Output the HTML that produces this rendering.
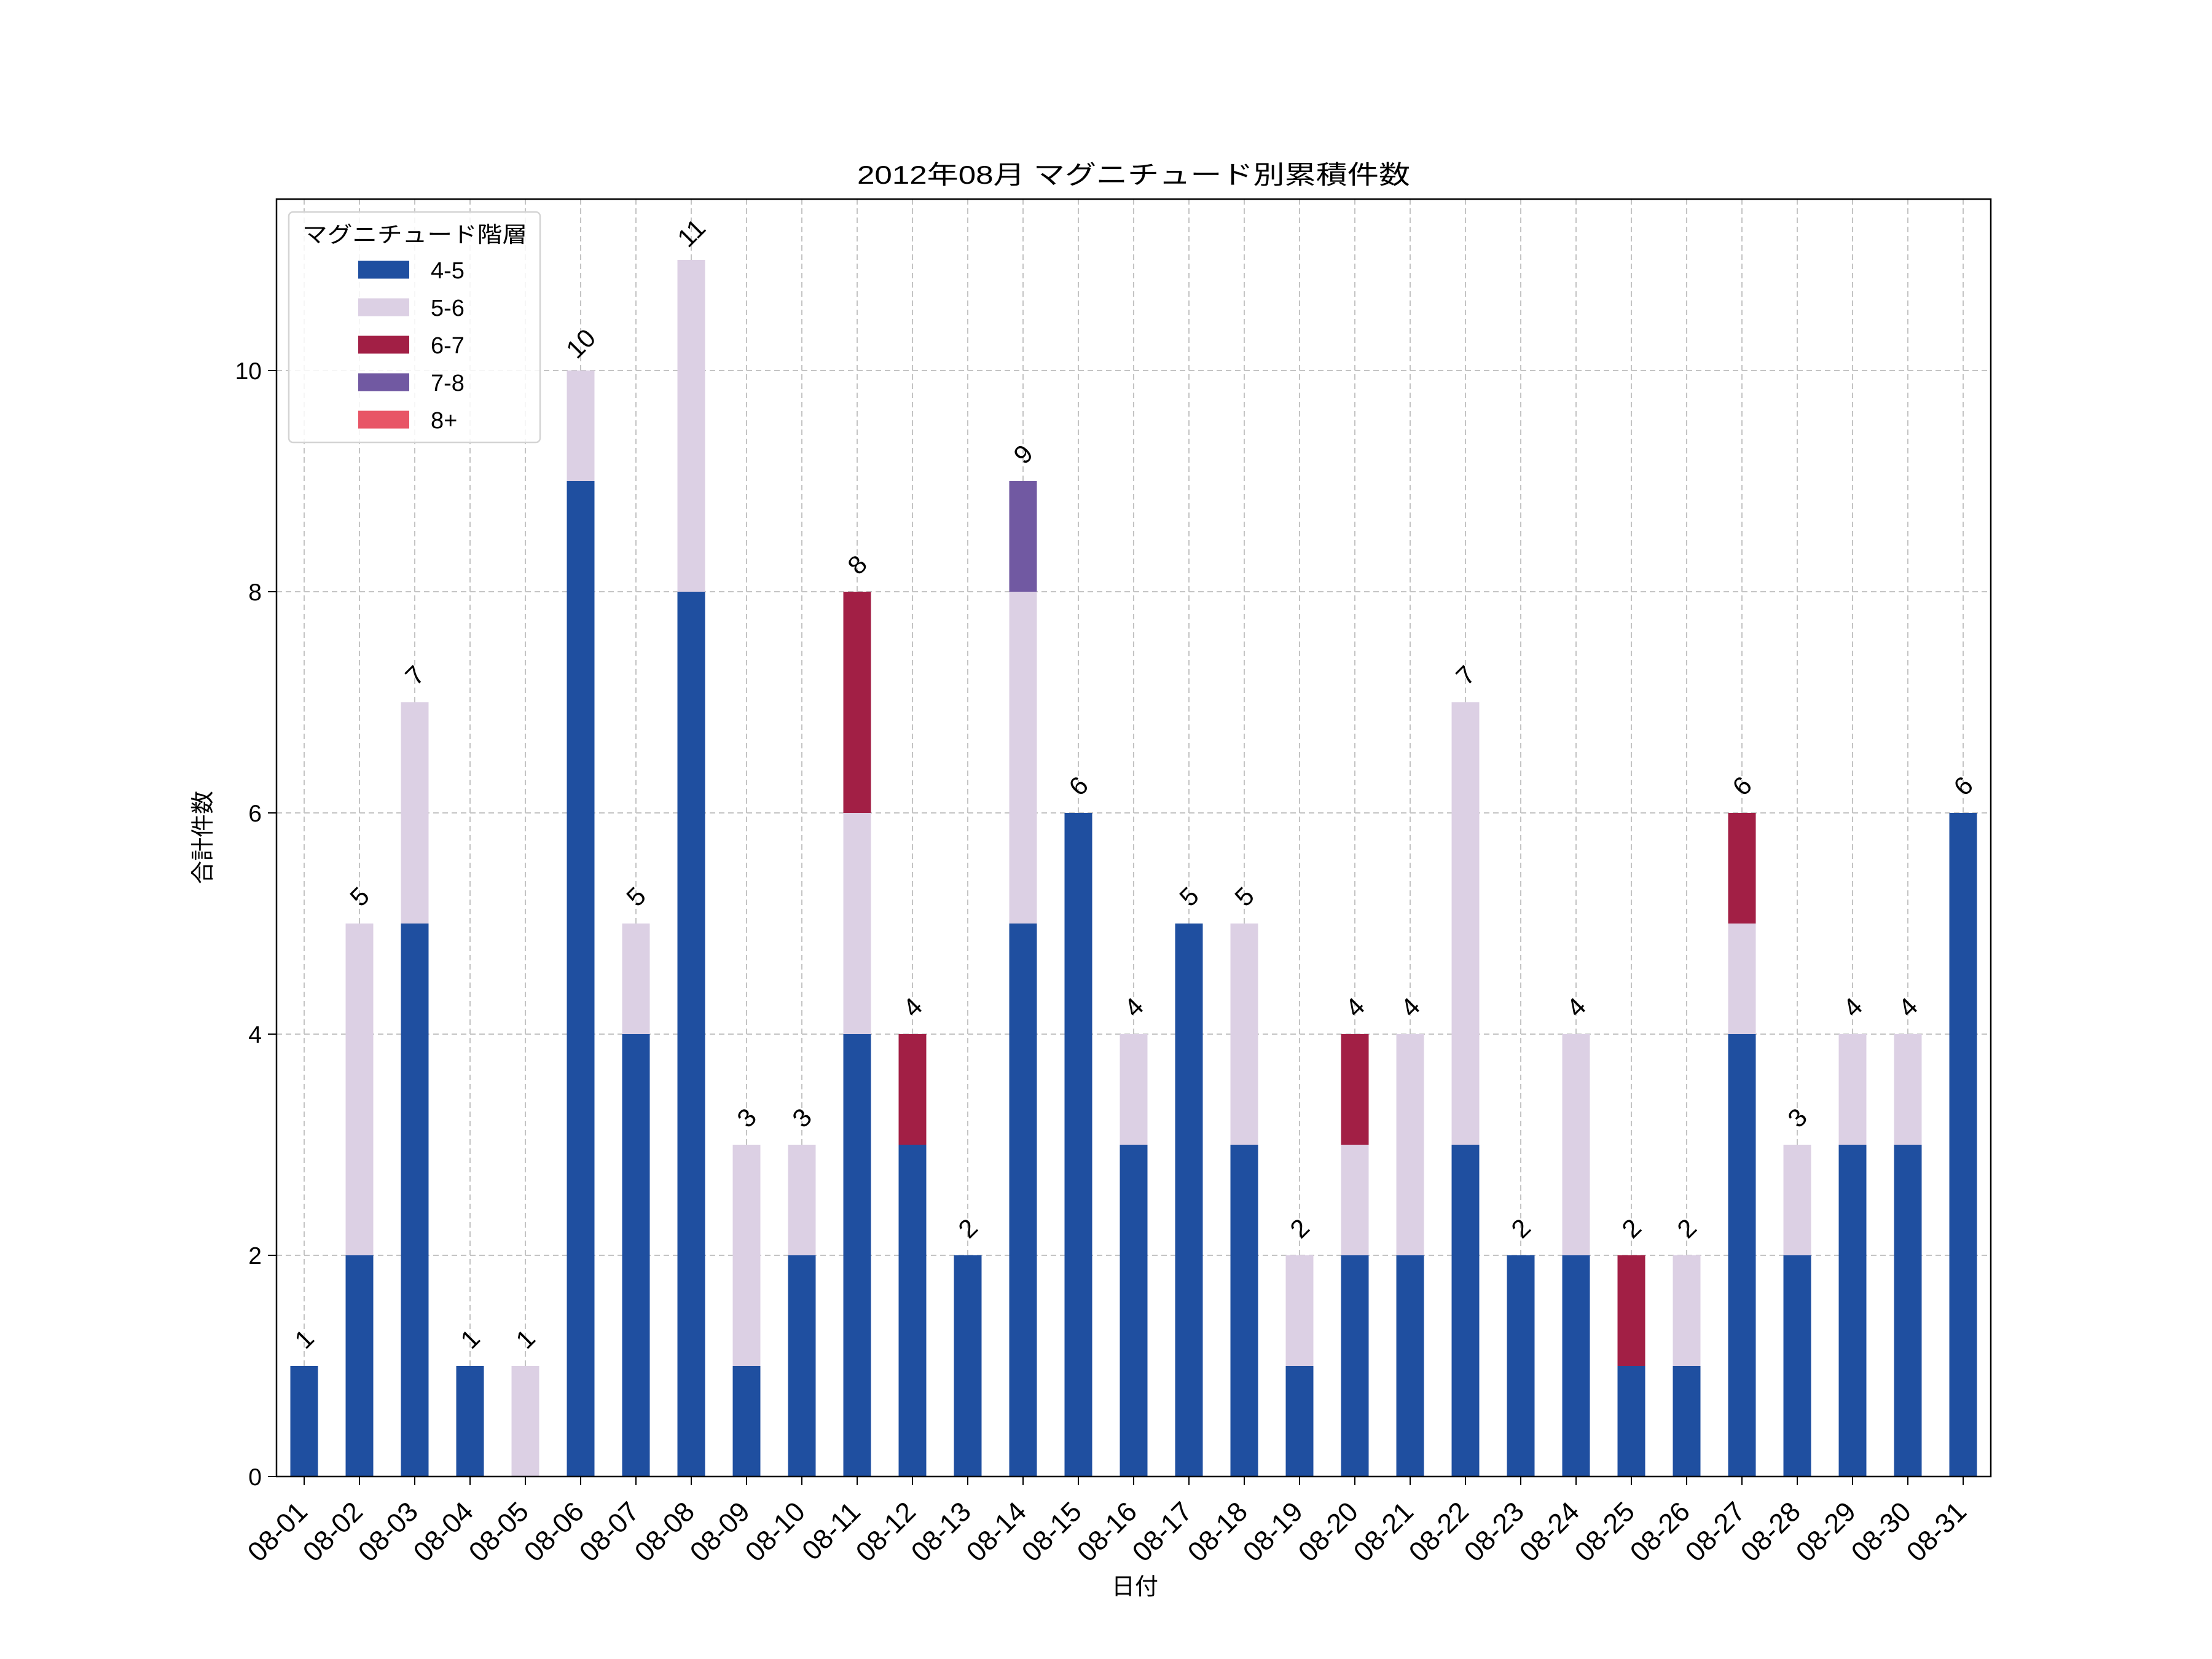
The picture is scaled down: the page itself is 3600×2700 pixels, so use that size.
<!DOCTYPE html>
<html><head><meta charset="utf-8"><style>
html,body{margin:0;padding:0;background:#fff;}
svg{display:block;}
text{font-family:"Liberation Sans","Noto Sans CJK JP",sans-serif;fill:#000;}
</style></head><body>
<svg id="c" xmlns="http://www.w3.org/2000/svg" width="3600" height="2700" viewBox="0 0 3600 2700"></svg>
<script>
const svg=document.getElementById('c');
const data=[[1,0,0,0],[2,3,0,0],[5,2,0,0],[1,0,0,0],[0,1,0,0],[9,1,0,0],[4,1,0,0],[8,3,0,0],[1,2,0,0],[2,1,0,0],[4,2,2,0],[3,0,1,0],[2,0,0,0],[5,3,0,1],[6,0,0,0],[3,1,0,0],[5,0,0,0],[3,2,0,0],[1,1,0,0],[2,1,1,0],[2,2,0,0],[3,4,0,0],[2,0,0,0],[2,2,0,0],[1,0,1,0],[1,1,0,0],[4,1,1,0],[2,1,0,0],[3,1,0,0],[3,1,0,0],[6,0,0,0]];
const cols=['#1f4fa0','#dcd0e4','#a21f45','#7159a2','#e85566'];
const L=450,R=3240,T=324,B=2403,U=180,X0=495,DX=90;
let s='';
for(let i=0;i<31;i++){const x=X0+i*DX;s+=`<line x1="${x}" y1="${T}" x2="${x}" y2="${B}" stroke="#c4c4c4" stroke-width="2" stroke-dasharray="9,6"/>`;}
for(let v=0;v<=10;v+=2){const y=B-v*U;s+=`<line x1="${L}" y1="${y}" x2="${R}" y2="${y}" stroke="#c4c4c4" stroke-width="2" stroke-dasharray="9,6"/>`;
s+=`<line x1="${L-14}" y1="${y}" x2="${L}" y2="${y}" stroke="#000" stroke-width="2"/><text x="${L-24}" y="${y+14}" font-size="39" text-anchor="end">${v}</text>`;}
data.forEach((d,i)=>{const x=X0+i*DX;let c=0;d.forEach((v,k)=>{if(v>0){s+=`<rect x="${x-22.5}" y="${B-(c+v)*U}" width="45" height="${v*U}" fill="${cols[k]}"/>`;c+=v;}});
const ty=B-c*U-44;s+=`<text transform="translate(${x},${ty}) rotate(-45)" font-size="42" text-anchor="middle" dy="0.35em">${c}</text>`;
s+=`<line x1="${x}" y1="${B}" x2="${x}" y2="${B+14}" stroke="#000" stroke-width="2"/>`;
const lab='08-'+String(i+1).padStart(2,'0');
s+=`<text transform="translate(${x+8},${B+60}) rotate(-45)" font-size="45" text-anchor="end">${lab}</text>`;});
s+=`<rect x="${L}" y="${T}" width="${R-L}" height="${B-T}" fill="none" stroke="#000" stroke-width="2.5"/>`;
s+=`<text x="1845" y="299" font-size="42" text-anchor="middle" textLength="900" lengthAdjust="spacingAndGlyphs">2012年08月 マグニチュード別累積件数</text>`;
s+=`<text x="1847" y="2595" font-size="38" text-anchor="middle">日付</text>`;
s+=`<text transform="translate(343,1363) rotate(-90)" font-size="38" text-anchor="middle">合計件数</text>`;
s+=`<rect x="470" y="345" width="409" height="375" rx="7" fill="#fff" fill-opacity="0.85" stroke="#d4d4d4" stroke-width="2.5"/>`;
s+=`<text x="492" y="394" font-size="36" textLength="366" lengthAdjust="spacingAndGlyphs">マグニチュード階層</text>`;
['4-5','5-6','6-7','7-8','8+'].forEach((l,k)=>{const y=439+k*61;s+=`<rect x="583" y="${y-14.5}" width="83" height="29" fill="${cols[k]}"/><text x="701" y="${y+14}" font-size="38">${l}</text>`;});
svg.innerHTML=s;
</script>
</body></html>
